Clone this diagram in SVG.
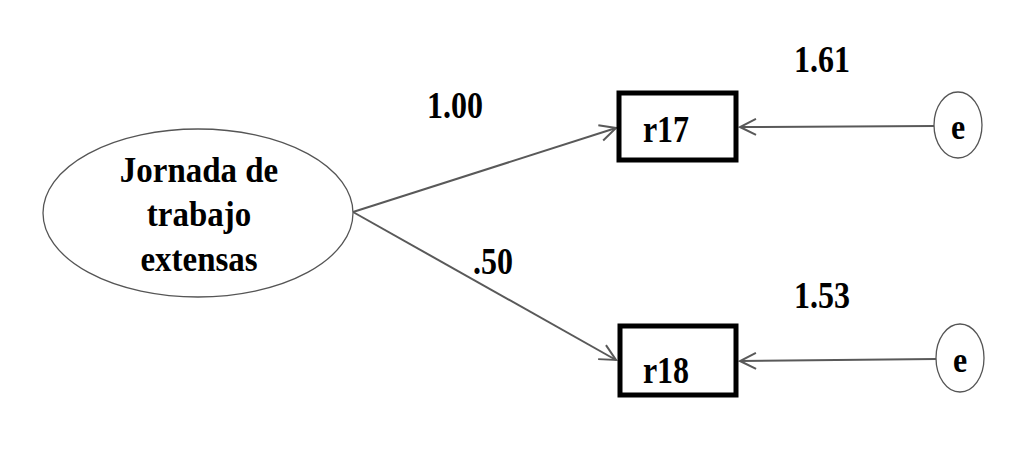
<svg xmlns="http://www.w3.org/2000/svg" width="1016" height="467" viewBox="0 0 1016 467">
<defs>
<style>
.t{font-family:"Liberation Serif","Times New Roman",serif;font-weight:bold;fill:#000;text-anchor:middle;font-size:32px}
.c{stroke:#595959;stroke-width:2;fill:none}
.ol{fill:#fff;stroke:#555;stroke-width:1.3}
.box{fill:#fff;stroke:#000;stroke-width:5}
</style>
<marker id="ah" viewBox="0 0 20 20" refX="18" refY="10" markerWidth="20" markerHeight="20" markerUnits="userSpaceOnUse" orient="auto">
<path d="M2,2 L18,10 L2,18" fill="none" stroke="#595959" stroke-width="2"/>
</marker>
</defs>
<rect width="1016" height="467" fill="#fff"/>
<g id="connectors">
<line class="c" x1="353" y1="212" x2="616" y2="128" marker-end="url(#ah)"/>
<line class="c" x1="353" y1="212" x2="616" y2="360" marker-end="url(#ah)"/>
<line class="c" x1="934" y1="126" x2="740" y2="127" marker-end="url(#ah)"/>
<line class="c" x1="936" y1="359" x2="740" y2="361" marker-end="url(#ah)"/>
<text class="t" transform="translate(455,118) scale(1,1.18)">1.00</text>
<text class="t" transform="translate(493,274) scale(1,1.18)">.50</text>
<text class="t" transform="translate(822,72) scale(1,1.18)">1.61</text>
<text class="t" transform="translate(822,308) scale(1,1.18)">1.53</text>
</g>
<g id="latent">
<ellipse class="ol" cx="198" cy="213" rx="155" ry="84"/>
<text class="t" transform="translate(199,182) scale(1.03,1.12)">Jornada de</text>
<text class="t" transform="translate(199,226) scale(1.03,1.12)">trabajo</text>
<text class="t" transform="translate(199,271) scale(1.03,1.12)">extensas</text>
</g>
<g id="r17">
<rect class="box" x="619" y="93" width="117" height="67"/>
<text class="t" transform="translate(666,142) scale(1,1.2)">r17</text>
</g>
<g id="r18">
<rect class="box" x="620" y="326" width="116" height="69"/>
<text class="t" transform="translate(666,383) scale(1,1.2)">r18</text>
</g>
<g id="e1">
<ellipse class="ol" cx="958" cy="125" rx="24" ry="33"/>
<text class="t" transform="translate(958,139) scale(1,1.12)">e</text>
</g>
<g id="e2">
<ellipse class="ol" cx="960" cy="358" rx="24" ry="34"/>
<text class="t" transform="translate(960,372) scale(1,1.12)">e</text>
</g>
</svg>
